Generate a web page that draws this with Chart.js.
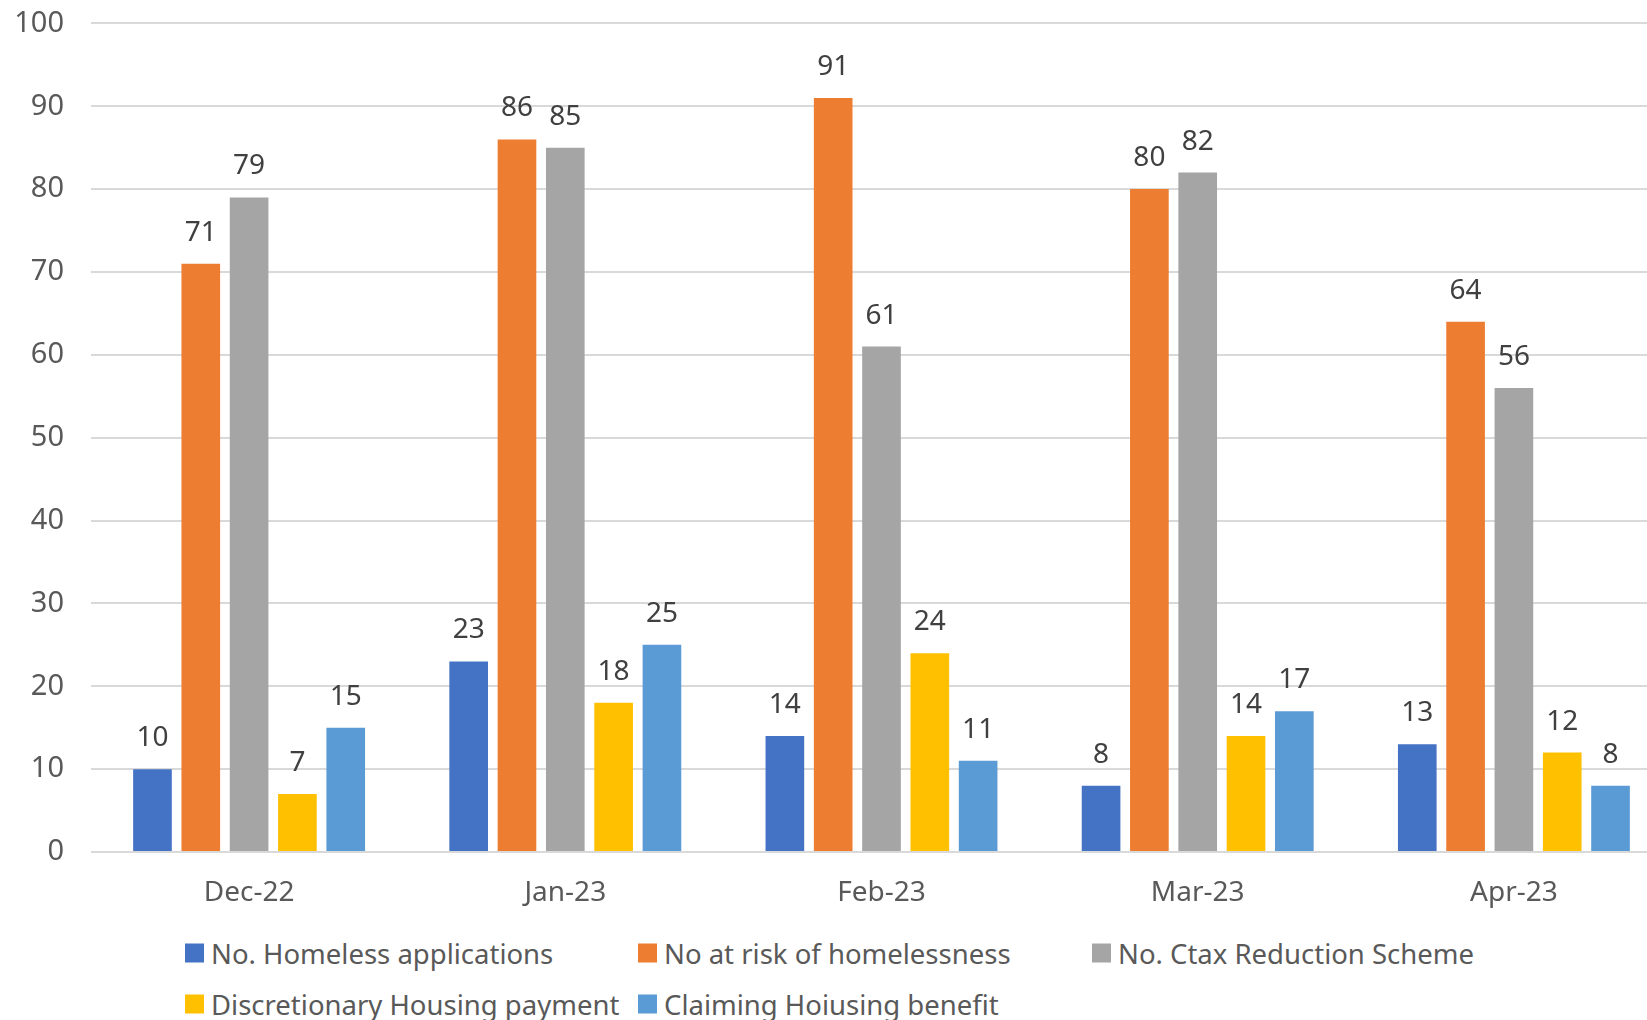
<!DOCTYPE html>
<html>
<head>
<meta charset="utf-8">
<script src="https://cdn.jsdelivr.net/npm/chart.js@4"></script>
<style>
  html, body { margin: 0; padding: 0; background: #fff; overflow: hidden; width: 1647px; height: 1020px; }
  #wrap { position: relative; width: 1647px; height: 1020px; overflow: hidden; }
  #chart { position: absolute; left: 0; top: -21px; }
  #legend { position: absolute; left: 0; top: 0; font-family: 'Noto Sans', sans-serif; font-size: 27.5px; color: #595959; }
  .item { position: absolute; display: flex; align-items: center; white-space: nowrap; transform: translateY(-50%); }
  .box { width: 19px; height: 19px; margin-right: 7px; }
</style>
</head>
<body>
<div id="wrap">
  <canvas id="chart" width="1672" height="953"></canvas>
  <div id="legend"></div>
</div>
<script>
const months = ['Dec-22', 'Jan-23', 'Feb-23', 'Mar-23', 'Apr-23'];
const seriesNames = [
  'No. Homeless applications',
  'No at risk of homelessness',
  'No. Ctax Reduction Scheme',
  'Discretionary Housing payment',
  'Claiming Hoiusing benefit'
];
const homeless = [10, 23, 14, 8, 13];
const atRisk = [71, 86, 91, 80, 64];
const ctax = [79, 85, 61, 82, 56];
const discretionary = [7, 18, 24, 14, 12];
const housingBenefit = [15, 25, 11, 17, 8];
const yTicks = [0, 10, 20, 30, 40, 50, 60, 70, 80, 90, 100];

const colors = ['#4472C4', '#ED7D31', '#A5A5A5', '#FFC000', '#5B9BD5'];
const values = [homeless, atRisk, ctax, discretionary, housingBenefit];
const font = "'Noto Sans', sans-serif";

// value labels above each bar
const barLabels = {
  id: 'barLabels',
  afterDatasetsDraw(chart) {
    const ctx = chart.ctx;
    ctx.save();
    ctx.font = '28px ' + font;
    ctx.fillStyle = '#404040';
    ctx.textAlign = 'center';
    ctx.textBaseline = 'bottom';
    chart.data.datasets.forEach((ds, i) => {
      chart.getDatasetMeta(i).data.forEach((bar, j) => {
        ctx.fillText(ds.data[j], bar.x, bar.y - 17);
      });
    });
    ctx.restore();
  }
};

new Chart(document.getElementById('chart'), {
  type: 'bar',
  data: {
    labels: months,
    datasets: seriesNames.map((name, i) => ({
      label: name,
      data: values[i],
      backgroundColor: colors[i],
      categoryPercentage: 0.764,
      barPercentage: 0.8
    }))
  },
  options: {
    responsive: false,
    animation: false,
    layout: { padding: { top: 2, left: 0, right: 0, bottom: 0 } },
    plugins: { legend: { display: false }, tooltip: { enabled: false } },
    scales: {
      x: {
        grid: { display: false, drawTicks: false },
        border: { display: false },
        ticks: { color: '#595959', font: { family: font, size: 28 }, padding: 24 },
        afterFit: s => { s.height = 80; }
      },
      y: {
        min: 0,
        max: 100,
        afterBuildTicks: s => { s.ticks = yTicks.map(v => ({ value: v })); },
        grid: { color: '#D9D9D9', lineWidth: 2, drawTicks: false },
        border: { display: false },
        ticks: { color: '#595959', font: { family: font, size: 29 }, padding: 27 },
        afterFit: s => { s.width = 91; }
      }
    }
  },
  plugins: [barLabels]
});

// legend laid out in fixed columns like the original
const legend = document.getElementById('legend');
const colX = [185, 638, 1092];
const rowY = [953, 1004];
seriesNames.forEach((name, i) => {
  const item = document.createElement('div');
  item.className = 'item';
  item.style.left = colX[i % 3] + 'px';
  item.style.top = rowY[Math.floor(i / 3)] + 'px';
  item.innerHTML = `<span class="box" style="background:${colors[i]}"></span><span>${name}</span>`;
  legend.appendChild(item);
});
</script>
</body>
</html>
